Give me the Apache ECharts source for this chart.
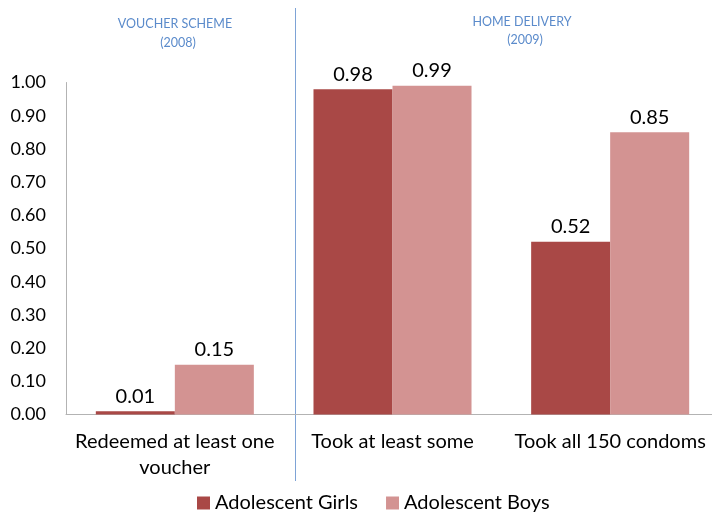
<!DOCTYPE html>
<html>
<head>
<meta charset="utf-8">
<script src="https://cdn.jsdelivr.net/npm/echarts@6/dist/echarts.min.js"></script>
<style>
  html, body { margin: 0; padding: 0; background: #fff; overflow: hidden; }
  /* the canvas is a little wider than the window: the plot area runs past the right edge */
  #chart { width: 719px; height: 512px; }
</style>
</head>
<body>
<div id="chart"></div>
<script>
// Condom uptake by programme and sex
const categories = ['Redeemed at least one\nvoucher', 'Took at least some', 'Took all 150 condoms'];
const girls = [0.01, 0.98, 0.52];
const boys = [0.15, 0.99, 0.85];
const seriesNames = ['Adolescent Girls', 'Adolescent Boys'];
const yTicks = { min: 0, max: 1, interval: 0.1 };

const FONT = 'Lato, "Open Sans", sans-serif';
const chart = echarts.init(document.getElementById('chart'));

const labelStyle = {
  show: true,
  position: 'top',
  distance: 5,
  color: '#000',
  fontSize: 20,
  fontFamily: FONT,
  formatter: p => p.value.toFixed(2)
};

const noteStyle = { fill: '#5b8bcb', fontSize: 12.5, fontFamily: FONT, textAlign: 'center', textVerticalAlign: 'middle' };

chart.setOption({
  animation: false,
  textStyle: { fontFamily: FONT },
  grid: { left: 66, right: 0, top: 82.5, bottom: 97.5, containLabel: false },
  legend: {
    data: seriesNames,
    left: 192,
    bottom: -6,
    itemWidth: 13,
    itemHeight: 13,
    itemGap: 28,
    icon: 'rect',
    textStyle: { fontSize: 20, color: '#000', fontFamily: FONT }
  },
  xAxis: {
    type: 'category',
    data: categories,
    axisLine: { lineStyle: { color: '#b3b3b3', width: 1 } },
    axisTick: { show: false },
    axisLabel: { color: '#000', fontSize: 20, fontFamily: FONT, lineHeight: 26, margin: 14, interval: 0 }
  },
  yAxis: {
    type: 'value',
    min: yTicks.min,
    max: yTicks.max,
    interval: yTicks.interval,
    axisLine: { show: true, lineStyle: { color: '#b3b3b3', width: 1 } },
    axisTick: { show: false },
    splitLine: { show: false },
    axisLabel: { color: '#000', fontSize: 18, fontFamily: FONT, margin: 20, formatter: v => v.toFixed(2) }
  },
  series: [
    {
      name: seriesNames[0], type: 'bar', data: girls,
      itemStyle: { color: '#a94846' },
      barGap: '0%', barCategoryGap: '27.4%',
      label: labelStyle
    },
    {
      name: seriesNames[1], type: 'bar', data: boys,
      itemStyle: { color: '#d39392' },
      label: labelStyle
    }
  ],
  graphic: [
    { type: 'line', shape: { x1: 295.5, y1: 8, x2: 295.5, y2: 481 }, style: { stroke: '#7ea3d6', lineWidth: 1 } },
    { type: 'text', x: 175, y: 24, style: Object.assign({ text: 'VOUCHER SCHEME' }, noteStyle) },
    { type: 'text', x: 178, y: 43, style: Object.assign({ text: '(2008)' }, noteStyle) },
    { type: 'text', x: 522, y: 22, style: Object.assign({ text: 'HOME DELIVERY' }, noteStyle) },
    { type: 'text', x: 525, y: 40, style: Object.assign({ text: '(2009)' }, noteStyle) }
  ]
});
</script>
</body>
</html>
